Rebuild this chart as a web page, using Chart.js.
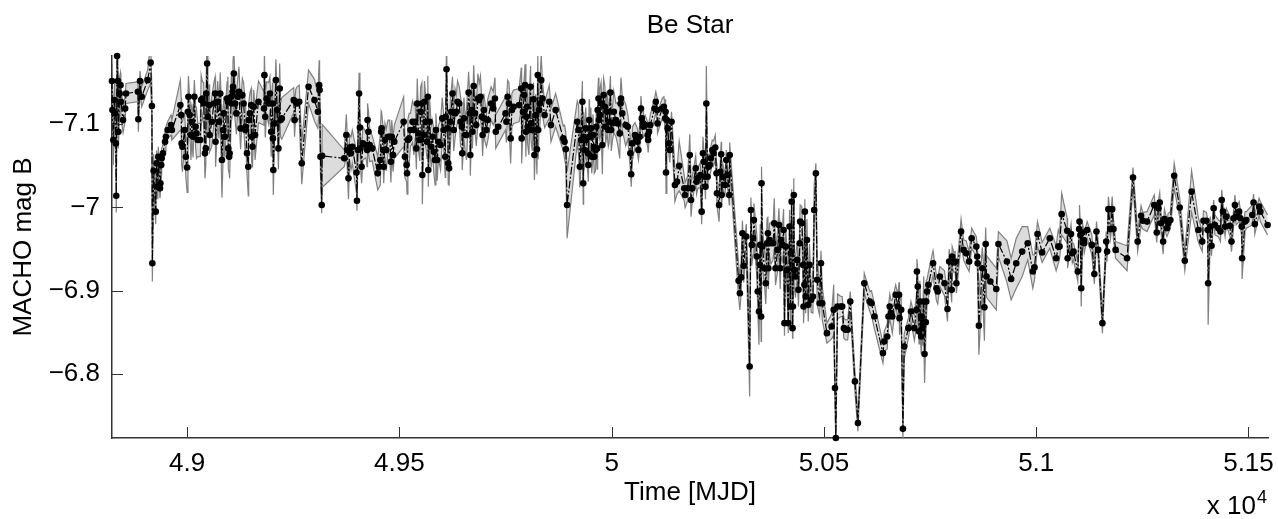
<!DOCTYPE html>
<html>
<head>
<meta charset="utf-8">
<script src="https://cdn.jsdelivr.net/npm/chart.js@4.4.1/dist/chart.umd.min.js"></script>
<style>
  html, body { margin: 0; padding: 0; background: #fff; }
  #wrap { width: 1278px; height: 519px; }
</style>
</head>
<body>
<div id="wrap"><canvas id="lc" width="1278" height="519"></canvas></div>
<script>
// Be Star light curve, MACHO B band
const mjd = [
  // 48820 - 49265
  48823, 48824, 48826, 48829, 48830, 48832, 48833, 48835, 48837, 48838,
  48841, 48843, 48844, 48849, 48854, 48856, 48884, 48885, 48889, 48893,
  48907, 48914, 48917, 48918, 48921, 48926, 48928, 48931, 48932, 48936,
  48937, 48939, 48940, 48943, 48948, 48950, 48954, 48962, 48964, 48984,
  48986, 48987, 48989, 48994, 48997, 49000, 49002, 49003, 49006, 49009,
  49011, 49014, 49017, 49020, 49022, 49025, 49031, 49033, 49036, 49039,
  49042, 49044, 49045, 49047, 49049, 49052, 49053, 49058, 49063, 49066,
  49067, 49072, 49075, 49078, 49082, 49085, 49086, 49089, 49094, 49096,
  49097, 49099, 49100, 49104, 49105, 49107, 49108, 49110, 49113, 49116,
  49119, 49122, 49126, 49130, 49133, 49137, 49138, 49141, 49144, 49145,
  49148, 49151, 49152, 49154, 49157, 49160, 49168, 49181, 49182, 49184,
  49187, 49192, 49195, 49198, 49201, 49202, 49203, 49206, 49209, 49212,
  49215, 49218, 49220, 49223, 49251, 49253, 49256, 49259, 49264,
  // 49270 - 49727
  49270, 49286, 49300, 49308, 49311, 49312, 49314, 49317, 49318, 49370,
  49375, 49377, 49380, 49383, 49386, 49389, 49399, 49400, 49402, 49405,
  49407, 49408, 49411, 49414, 49421, 49424, 49425, 49427, 49430, 49436,
  49449, 49452, 49455, 49457, 49458, 49462, 49463, 49466, 49469, 49473,
  49477, 49480, 49482, 49485, 49488, 49510, 49513, 49517, 49518, 49520,
  49523, 49526, 49531, 49534, 49537, 49540, 49542, 49545, 49548, 49550,
  49553, 49554, 49557, 49559, 49562, 49565, 49567, 49568, 49571, 49575,
  49578, 49581, 49584, 49586, 49589, 49592, 49597, 49601, 49604, 49608,
  49609, 49611, 49614, 49615, 49617, 49620, 49622, 49625, 49628, 49631,
  49634, 49637, 49641, 49644, 49647, 49648, 49652, 49655, 49658, 49663,
  49666, 49667, 49670, 49672, 49675, 49678, 49681, 49685, 49688, 49691,
  49694, 49696, 49699, 49700, 49705, 49708, 49716, 49721, 49725, 49727,
  // 49733 - 50173
  49733, 49750, 49752, 49755, 49758, 49762, 49765, 49769, 49782, 49787,
  49788, 49791, 49794, 49796, 49798, 49799, 49801, 49802, 49805, 49809,
  49810, 49813, 49816, 49818, 49821, 49824, 49826, 49827, 49829, 49831,
  49834, 49837, 49842, 49853, 49857, 49868, 49886, 49889, 49892, 49895,
  49919, 49922, 49925, 49928, 49931, 49933, 49934, 49936, 49939, 49940,
  49944, 49945, 49947, 49948, 49951, 49953, 49956, 49958, 49959, 49962,
  49964, 49966, 49967, 49969, 49970, 49972, 49975, 49978, 49981, 49984,
  49986, 49989, 49992, 49994, 49997, 49999, 50002, 50005, 50010, 50014,
  50019, 50021, 50022, 50025, 50033, 50038, 50044, 50046, 50049, 50055,
  50058, 50061, 50063, 50066, 50069, 50071, 50074, 50075, 50079, 50085,
  50086, 50088, 50091, 50101, 50104, 50107, 50108, 50119, 50123, 50126,
  50127, 50128, 50130, 50132, 50135, 50137, 50141, 50149, 50154, 50159,
  50171, 50173,
  // 50179 - 50619
  50179, 50184, 50187, 50190, 50198, 50200, 50203, 50209, 50212, 50215,
  50217, 50220, 50221, 50223, 50226, 50228, 50231, 50234, 50237, 50240,
  50244, 50247, 50248, 50253, 50256, 50258, 50259, 50262, 50267, 50270,
  50273, 50277, 50278, 50299, 50302, 50305, 50308, 50311, 50317, 50325,
  50328, 50330, 50333, 50335, 50342, 50344, 50347, 50349, 50350, 50352,
  50353, 50355, 50360, 50363, 50366, 50368, 50369, 50372, 50375, 50380,
  50383, 50386, 50391, 50394, 50397, 50399, 50402, 50405, 50407, 50410,
  50413, 50416, 50419, 50421, 50422, 50424, 50426, 50427, 50429, 50430,
  50433, 50437, 50440, 50443, 50444, 50448, 50451, 50452, 50454, 50455,
  50457, 50460, 50463, 50466, 50470, 50474, 50477, 50481, 50484, 50490,
  50493, 50496, 50507, 50518, 50523, 50526, 50528, 50532, 50540, 50543,
  50547, 50551, 50556, 50562, 50573, 50580, 50595, 50608, 50612, 50619,
  // 50639 - 51082
  50639, 50642, 50649, 50652, 50655, 50658, 50661, 50669, 50674, 50677,
  50678, 50682, 50686, 50689, 50699, 50705, 50713, 50718, 50719, 50721,
  50724, 50726, 50729, 50730, 50732, 50733, 50735, 50737, 50740, 50741,
  50743, 50746, 50757, 50765, 50768, 50773, 50784, 50791, 50795, 50801,
  50802, 50806, 50809, 50812, 50823, 50829, 50835, 50842, 50848, 50859,
  50861, 50862, 50865, 50873, 50878, 50881, 50883, 50892, 50906, 50911,
  50931, 50941, 50953, 50967, 50980, 50992, 50996, 51003, 51014, 51032,
  51047, 51052, 51055, 51060, 51073, 51074, 51082,
  // 51085 - 51545
  51085, 51088, 51098, 51101, 51102, 51104, 51106, 51109, 51112, 51113,
  51120, 51131, 51137, 51142, 51146, 51156, 51165, 51167, 51170, 51175,
  51179, 51182, 51187, 51214, 51228, 51239, 51247, 51251, 51261, 51278,
  51284, 51288, 51291, 51294, 51299, 51302, 51308, 51311, 51316, 51325,
  51338, 51350, 51366, 51382, 51391, 51394, 51401, 51404, 51405, 51410,
  51413, 51418, 51421, 51429, 51434, 51437, 51440, 51445, 51448, 51456,
  51460, 51465, 51468, 51471, 51478, 51481, 51484, 51485, 51492, 51495,
  51509, 51512, 51515, 51525, 51528, 51545
];

const magB = [
  -7.152, -7.117, -7.081, -7.129, -7.113, -7.077, -7.014, -7.182, -7.152, -7.091,
  -7.137, -7.147, -7.127, -7.105, -7.119, -7.137, -7.139, -7.106, -7.152, -7.133,
  -7.153, -7.174, -7.122, -6.933, -7.044, -6.995, -7.053, -7.025, -7.061, -7.023,
  -7.029, -7.051, -7.059, -7.065, -7.079, -7.085, -7.093, -7.099, -7.093, -7.123,
  -7.111, -7.077, -7.073, -7.093, -7.061, -7.048, -7.115, -7.133, -7.111, -7.087,
  -7.103, -7.085, -7.133, -7.097, -7.089, -7.081, -7.081, -7.129, -7.131, -7.125,
  -7.065, -7.071, -7.137, -7.173, -7.109, -7.123, -7.087, -7.103, -7.125, -7.137,
  -7.079, -7.127, -7.103, -7.137, -7.057, -7.093, -7.113, -7.085, -7.131, -7.127,
  -7.071, -7.061, -7.065, -7.133, -7.125, -7.139, -7.145, -7.161, -7.125, -7.113,
  -7.133, -7.139, -7.095, -7.135, -7.125, -7.093, -7.097, -7.065, -7.049, -7.105,
  -7.113, -7.123, -7.085, -7.073, -7.121, -7.087, -7.127, -7.119, -7.159, -7.109,
  -7.131, -7.125, -7.137, -7.091, -7.125, -7.083, -7.045, -7.101, -7.153, -7.117,
  -7.071, -7.143, -7.105, -7.107, -7.129, -7.105, -7.127, -7.125, -7.127,

  -7.053, -7.145, -7.129, -7.115, -7.147, -7.141, -7.061, -7.003, -7.062, -7.059,
  -7.087, -7.069, -7.035, -7.072, -7.065, -7.073, -7.042, -7.008, -7.069, -7.137,
  -7.096, -7.071, -7.049, -7.077, -7.075, -7.069, -7.105, -7.091, -7.075, -7.071,
  -7.041, -7.049, -7.057, -7.091, -7.095, -7.069, -7.049, -7.081, -7.069, -7.085,
  -7.085, -7.055, -7.085, -7.063, -7.079, -7.103, -7.061, -7.051, -7.041, -7.081,
  -7.083, -7.093, -7.103, -7.093, -7.103, -7.071, -7.125, -7.089, -7.081, -7.115,
  -7.125, -7.039, -7.087, -7.127, -7.103, -7.079, -7.133, -7.045, -7.103, -7.073,
  -7.085, -7.067, -7.057, -7.093, -7.057, -7.079, -7.075, -7.107, -7.093, -7.061,
  -7.109, -7.166, -7.095, -7.053, -7.047, -7.103, -7.115, -7.137, -7.093, -7.113,
  -7.115, -7.127, -7.125, -7.103, -7.097, -7.065, -7.107, -7.087, -7.087, -7.138,
  -7.113, -7.063, -7.117, -7.091, -7.146, -7.113, -7.099, -7.131, -7.129, -7.133,
  -7.109, -7.087, -7.117, -7.107, -7.093, -7.105, -7.125, -7.119, -7.131, -7.091,

  -7.097, -7.113, -7.103, -7.133, -7.125, -7.083, -7.117, -7.121, -7.123, -7.143,
  -7.083, -7.115, -7.135, -7.147, -7.091, -7.109, -7.121, -7.097, -7.093, -7.145,
  -7.101, -7.093, -7.130, -7.063, -7.111, -7.070, -7.159, -7.093, -7.117, -7.125,
  -7.153, -7.131, -7.111, -7.127, -7.099, -7.117, -7.083, -7.079, -7.070, -7.003,
  -7.103, -7.093, -7.049, -7.081, -7.127, -7.029, -7.085, -7.069, -7.095, -7.081,
  -7.065, -7.051, -7.105, -7.085, -7.095, -7.061, -7.087, -7.073, -7.061, -7.069,
  -7.097, -7.071, -7.117, -7.131, -7.105, -7.111, -7.125, -7.075, -7.135, -7.121,
  -7.097, -7.115, -7.093, -7.103, -7.138, -7.093, -7.101, -7.115, -7.105, -7.101,
  -7.089, -7.125, -7.131, -7.113, -7.099, -7.097, -7.065, -7.040, -7.077, -7.087,
  -7.083, -7.079, -7.069, -7.085, -7.119, -7.107, -7.101, -7.097, -7.099, -7.087,
  -7.081, -7.091, -7.099, -7.119, -7.127, -7.117, -7.101, -7.119, -7.121, -7.107,
  -7.115, -7.042, -7.105, -7.095, -7.077, -7.069, -7.103, -7.027, -7.031, -7.050,
  -7.023, -7.015,

  -7.023, -7.063, -7.009, -7.023, -7.047, -7.031, -7.035, -7.039, -6.995, -7.065,
  -7.055, -7.037, -7.025, -7.125, -7.037, -7.049, -7.051, -7.059, -7.069, -7.065,
  -7.072, -7.041, -7.017, -7.003, -7.043, -7.064, -7.015, -7.037, -7.027, -7.057,
  -7.039, -7.015, -7.063, -6.912, -6.897, -6.916, -6.969, -6.930, -6.965, -6.809,
  -6.997, -6.955, -6.963, -6.985, -6.941, -6.899, -6.875, -6.931, -6.955, -6.869,
  -7.029, -6.953, -6.927, -6.909, -6.957, -6.969, -6.927, -6.961, -6.957, -6.957,
  -6.981, -6.927, -6.949, -6.979, -6.927, -6.961, -6.955, -6.973, -6.861, -6.953,
  -6.925, -6.861, -6.977, -6.881, -6.945, -7.007, -6.855, -6.881, -7.015, -6.925,
  -6.917, -6.937, -6.901, -6.957, -6.983, -6.981, -6.931, -6.881, -6.907, -6.995,
  -6.893, -6.961, -6.883, -6.931, -6.889, -6.893, -6.997, -7.041, -6.913, -6.885,
  -6.933, -6.885, -6.849, -6.857, -6.877, -6.783, -6.723, -6.881, -6.881, -6.881,
  -6.855, -6.853, -6.853, -6.887, -6.791, -6.741, -6.909, -6.887, -6.885, -6.869,

  -6.825, -6.839, -6.845, -6.869, -6.881, -6.873, -6.869, -6.895, -6.881, -6.895,
  -6.867, -6.877, -6.734, -6.833, -6.855, -6.875, -6.855, -6.877, -6.923, -6.905,
  -6.851, -6.887, -6.845, -6.869, -6.855, -6.861, -6.887, -6.824, -6.862, -6.887,
  -6.899, -6.907, -6.933, -6.903, -6.899, -6.917, -6.909, -6.878, -6.935, -6.901,
  -6.941, -6.934, -6.935, -6.909, -6.971, -6.949, -6.945, -6.935, -6.963, -6.953,
  -6.941, -6.933, -6.858, -6.927, -6.880, -6.956, -6.917, -6.911, -6.902, -6.956,
  -6.935, -6.914, -6.933, -6.947, -6.957, -6.923, -6.928, -6.968, -6.946, -6.963,
  -6.939, -6.953, -6.953, -6.992, -6.972, -6.939, -6.968,

  -6.945, -6.947, -6.923, -6.974, -6.983, -6.967, -6.903, -6.970, -6.961, -6.957,
  -6.973, -6.955, -6.920, -6.971, -6.949, -6.861, -6.959, -6.947, -6.998, -6.974,
  -6.998, -6.974, -6.949, -6.939, -7.036, -6.959, -6.990, -6.984, -6.983, -7.003,
  -6.970, -6.999, -7.006, -6.981, -6.959, -6.986, -6.975, -6.981, -6.985, -7.038,
  -7.000, -6.936, -7.019, -6.973, -6.959, -6.984, -6.984, -6.973, -6.909, -6.977,
  -6.954, -6.999, -6.979, -6.975, -6.971, -7.009, -6.995, -6.977, -6.989, -6.978,
  -6.959, -6.987, -7.003, -6.989, -6.995, -6.987, -6.977, -6.939, -6.983, -6.985,
  -6.991, -7.006, -6.980, -7.001, -6.995, -6.979
];

// 1-sigma errors, drawn as the grey band
const magErr = [
  0.020, 0.025, 0.030, 0.020, 0.020, 0.025, 0.020, 0.030, 0.020, 0.020,
  0.020, 0.015, 0.020, 0.015, 0.015, 0.012, 0.012, 0.015, 0.012, 0.012,
  0.012, 0.025, 0.020, 0.022, 0.020, 0.015, 0.015, 0.015, 0.012, 0.012,
  0.012, 0.012, 0.012, 0.010, 0.012, 0.012, 0.010, 0.012, 0.012, 0.030,
  0.020, 0.025, 0.030, 0.020, 0.025, 0.030, 0.020, 0.025, 0.020, 0.030,
  0.020, 0.025, 0.020, 0.025, 0.030, 0.020, 0.020, 0.030, 0.020, 0.025,
  0.030, 0.020, 0.025, 0.030, 0.020, 0.025, 0.020, 0.030, 0.025, 0.020,
  0.030, 0.025, 0.020, 0.025, 0.045, 0.030, 0.020, 0.025, 0.020, 0.030,
  0.025, 0.020, 0.030, 0.025, 0.020, 0.025, 0.030, 0.030, 0.020, 0.025,
  0.020, 0.030, 0.025, 0.020, 0.025, 0.030, 0.020, 0.025, 0.035, 0.020,
  0.025, 0.020, 0.030, 0.025, 0.020, 0.030, 0.025, 0.020, 0.030, 0.025,
  0.020, 0.025, 0.020, 0.030, 0.025, 0.030, 0.030, 0.020, 0.025, 0.020,
  0.025, 0.030, 0.020, 0.025, 0.015, 0.020, 0.015, 0.020, 0.020,

  0.025, 0.020, 0.025, 0.020, 0.030, 0.025, 0.020, 0.010, 0.038, 0.010,
  0.025, 0.020, 0.025, 0.015, 0.020, 0.020, 0.025, 0.012, 0.020, 0.025,
  0.025, 0.020, 0.020, 0.020, 0.015, 0.020, 0.020, 0.025, 0.020, 0.015,
  0.020, 0.025, 0.030, 0.025, 0.020, 0.025, 0.020, 0.020, 0.025, 0.020,
  0.020, 0.025, 0.020, 0.020, 0.020, 0.030, 0.025, 0.020, 0.025, 0.025,
  0.030, 0.020, 0.025, 0.030, 0.020, 0.025, 0.030, 0.020, 0.025, 0.030,
  0.025, 0.035, 0.020, 0.025, 0.030, 0.020, 0.025, 0.020, 0.030, 0.025,
  0.020, 0.025, 0.030, 0.020, 0.025, 0.020, 0.030, 0.025, 0.020, 0.025,
  0.025, 0.030, 0.020, 0.025, 0.020, 0.030, 0.025, 0.020, 0.025, 0.030,
  0.020, 0.025, 0.020, 0.030, 0.025, 0.020, 0.025, 0.020, 0.030, 0.025,
  0.020, 0.025, 0.030, 0.020, 0.025, 0.020, 0.025, 0.030, 0.020, 0.025,
  0.020, 0.025, 0.020, 0.025, 0.020, 0.025, 0.020, 0.020, 0.025, 0.020,

  0.020, 0.020, 0.025, 0.020, 0.025, 0.030, 0.020, 0.020, 0.020, 0.025,
  0.030, 0.025, 0.020, 0.025, 0.030, 0.020, 0.025, 0.020, 0.030, 0.025,
  0.020, 0.025, 0.020, 0.030, 0.025, 0.030, 0.025, 0.035, 0.020, 0.025,
  0.030, 0.020, 0.015, 0.020, 0.020, 0.020, 0.015, 0.020, 0.020, 0.040,
  0.025, 0.030, 0.025, 0.030, 0.025, 0.025, 0.030, 0.020, 0.025, 0.020,
  0.025, 0.020, 0.025, 0.020, 0.025, 0.020, 0.025, 0.020, 0.020, 0.025,
  0.020, 0.025, 0.020, 0.025, 0.020, 0.030, 0.025, 0.035, 0.020, 0.025,
  0.020, 0.025, 0.020, 0.025, 0.020, 0.025, 0.020, 0.025, 0.020, 0.025,
  0.030, 0.020, 0.025, 0.020, 0.025, 0.015, 0.020, 0.015, 0.020, 0.015,
  0.015, 0.015, 0.012, 0.015, 0.015, 0.012, 0.015, 0.012, 0.012, 0.015,
  0.015, 0.012, 0.012, 0.012, 0.012, 0.015, 0.012, 0.012, 0.012, 0.015,
  0.015, 0.025, 0.012, 0.012, 0.015, 0.015, 0.012, 0.020, 0.015, 0.030,
  0.015, 0.015,

  0.015, 0.025, 0.020, 0.015, 0.015, 0.015, 0.012, 0.015, 0.015, 0.020,
  0.015, 0.015, 0.015, 0.045, 0.012, 0.015, 0.012, 0.015, 0.012, 0.015,
  0.015, 0.012, 0.015, 0.020, 0.015, 0.015, 0.012, 0.015, 0.012, 0.012,
  0.015, 0.012, 0.015, 0.020, 0.020, 0.020, 0.015, 0.020, 0.015, 0.036,
  0.015, 0.025, 0.020, 0.020, 0.025, 0.020, 0.040, 0.020, 0.025, 0.030,
  0.020, 0.025, 0.020, 0.025, 0.030, 0.020, 0.025, 0.020, 0.025, 0.020,
  0.030, 0.020, 0.025, 0.020, 0.025, 0.020, 0.020, 0.025, 0.015, 0.020,
  0.025, 0.012, 0.020, 0.025, 0.020, 0.015, 0.012, 0.025, 0.020, 0.020,
  0.025, 0.020, 0.020, 0.025, 0.020, 0.020, 0.025, 0.020, 0.020, 0.015,
  0.020, 0.025, 0.020, 0.025, 0.015, 0.020, 0.030, 0.012, 0.030, 0.015,
  0.015, 0.020, 0.012, 0.015, 0.030, 0.015, 0.010, 0.015, 0.012, 0.012,
  0.012, 0.012, 0.012, 0.012, 0.012, 0.010, 0.012, 0.012, 0.015, 0.015,

  0.012, 0.012, 0.015, 0.012, 0.015, 0.015, 0.020, 0.012, 0.015, 0.015,
  0.020, 0.015, 0.012, 0.015, 0.012, 0.012, 0.015, 0.020, 0.015, 0.020,
  0.015, 0.025, 0.020, 0.015, 0.020, 0.015, 0.030, 0.035, 0.020, 0.025,
  0.015, 0.015, 0.015, 0.015, 0.015, 0.012, 0.015, 0.015, 0.015, 0.015,
  0.012, 0.012, 0.012, 0.012, 0.015, 0.012, 0.015, 0.012, 0.012, 0.012,
  0.012, 0.015, 0.035, 0.025, 0.040, 0.020, 0.025, 0.025, 0.025, 0.015,
  0.025, 0.025, 0.030, 0.030, 0.020, 0.020, 0.015, 0.015, 0.012, 0.012,
  0.015, 0.020, 0.015, 0.025, 0.015, 0.012, 0.012,

  0.012, 0.010, 0.012, 0.010, 0.020, 0.012, 0.022, 0.012, 0.010, 0.012,
  0.010, 0.012, 0.012, 0.012, 0.010, 0.012, 0.012, 0.012, 0.015, 0.012,
  0.015, 0.012, 0.010, 0.015, 0.012, 0.012, 0.012, 0.010, 0.012, 0.012,
  0.012, 0.010, 0.012, 0.012, 0.015, 0.012, 0.010, 0.012, 0.010, 0.015,
  0.012, 0.012, 0.025, 0.015, 0.012, 0.012, 0.010, 0.012, 0.050, 0.012,
  0.012, 0.010, 0.012, 0.010, 0.012, 0.012, 0.010, 0.012, 0.010, 0.012,
  0.012, 0.010, 0.012, 0.010, 0.012, 0.010, 0.012, 0.025, 0.012, 0.010,
  0.012, 0.010, 0.012, 0.010, 0.012, 0.012
];

const xMin = 48823, xMax = 51546;
const yMin = -7.182, yMax = -6.723;
const xTicks = [49000, 49500, 50000, 50500, 51000, 51500];
const xTickLabels = ['4.9', '4.95', '5', '5.05', '5.1', '5.15'];
const yTicks = [-7.1, -7.0, -6.9, -6.8];
const yTickLabels = ['\u22127.1', '\u22127', '\u22126.9', '\u22126.8'];

if (mjd.length !== magB.length || mjd.length !== magErr.length) {
  console.error('length mismatch', mjd.length, magB.length, magErr.length);
}

const points = mjd.map((t, i) => ({ x: t, y: magB[i] }));
const upper = mjd.map((t, i) => ({ x: t, y: magB[i] - magErr[i] }));
const lower = mjd.map((t, i) => ({ x: t, y: magB[i] + magErr[i] }));

const FONT = '"Liberation Sans", Arial, Helvetica, sans-serif';
const FSIZE = 26;
Chart.defaults.font.family = FONT;
Chart.defaults.font.size = FSIZE;
Chart.defaults.color = '#000';

// matlab style: ticks inside the axes, exponent label bottom right
const matlabAxes = {
  id: 'matlabAxes',
  afterDraw(chart) {
    const { ctx, chartArea: a, scales: { x, y } } = chart;
    ctx.save();
    ctx.strokeStyle = '#333';
    ctx.lineWidth = 1;
    xTicks.forEach(v => {
      const px = Math.round(x.getPixelForValue(v)) + 0.5;
      ctx.beginPath();
      ctx.moveTo(px, a.bottom);
      ctx.lineTo(px, a.bottom - 11);
      ctx.stroke();
    });
    yTicks.forEach(v => {
      const py = Math.round(y.getPixelForValue(v)) + 0.5;
      ctx.beginPath();
      ctx.moveTo(a.left, py);
      ctx.lineTo(a.left + 11, py);
      ctx.stroke();
    });
    ctx.fillStyle = '#000';
    ctx.textBaseline = 'alphabetic';
    ctx.textAlign = 'right';
    ctx.font = FSIZE + 'px ' + FONT;
    ctx.fillText('x 10', 1256, 514);
    ctx.textAlign = 'left';
    ctx.font = '18px ' + FONT;
    ctx.fillText('4', 1257, 503);
    ctx.restore();
  }
};

new Chart(document.getElementById('lc'), {
  type: 'line',
  data: {
    datasets: [
      {
        label: 'MACHO B',
        data: points,
        order: 0,
        borderColor: '#000',
        borderWidth: 1.2,
        borderDash: [8, 2, 2, 2],
        pointRadius: 3.3,
        pointBackgroundColor: '#000',
        pointBorderWidth: 0,
        tension: 0,
        fill: false,
        clip: false
      },
      {
        label: 'upper',
        data: upper,
        order: 1,
        borderColor: '#808080',
        borderWidth: 1.2,
        pointRadius: 0,
        tension: 0,
        fill: false
      },
      {
        label: 'lower',
        data: lower,
        order: 2,
        borderColor: '#808080',
        borderWidth: 1.2,
        pointRadius: 0,
        tension: 0,
        fill: 1,
        backgroundColor: '#dcdcdc'
      }
    ]
  },
  options: {
    responsive: false,
    animation: false,
    events: [],
    layout: { padding: { left: 0, right: 10, top: 0, bottom: 0 } },
    plugins: {
      legend: { display: false },
      tooltip: { enabled: false },
      title: {
        display: true,
        fullSize: false,
        text: 'Be Star',
        color: '#000',
        font: { size: FSIZE, weight: 'normal' },
        padding: { top: 10, bottom: 14.8 }
      }
    },
    scales: {
      x: {
        type: 'linear',
        min: xMin,
        max: xMax,
        afterBuildTicks: s => { s.ticks = xTicks.map(v => ({ value: v })); },
        afterFit: s => { s.height = 81; s.paddingLeft = 0; s.paddingRight = 0; },
        ticks: {
          callback: (v, i) => xTickLabels[i],
          padding: 10,
          maxRotation: 0,
          autoSkip: false,
          color: '#000'
        },
        grid: { display: false, drawTicks: false },
        border: { display: true, color: '#333', width: 1.5 },
        title: {
          display: true,
          text: 'Time [MJD]',
          color: '#000',
          font: { size: FSIZE, weight: 'normal' },
          padding: { top: 0, bottom: 11 }
        }
      },
      y: {
        type: 'linear',
        reverse: true,
        min: yMin,
        max: yMax,
        afterBuildTicks: s => { s.ticks = yTicks.map(v => ({ value: v })); },
        afterFit: s => { s.width = 112; s.paddingTop = 0; s.paddingBottom = 0; },
        ticks: {
          callback: (v, i) => yTickLabels[i],
          padding: 12,
          autoSkip: false,
          color: '#000'
        },
        grid: { display: false, drawTicks: false },
        border: { display: true, color: '#333', width: 1.5 },
        title: {
          display: true,
          text: 'MACHO mag B',
          color: '#000',
          font: { size: FSIZE, weight: 'normal' },
          padding: { top: 8, bottom: 0 }
        }
      }
    }
  },
  plugins: [matlabAxes]
});
</script>
</body>
</html>
